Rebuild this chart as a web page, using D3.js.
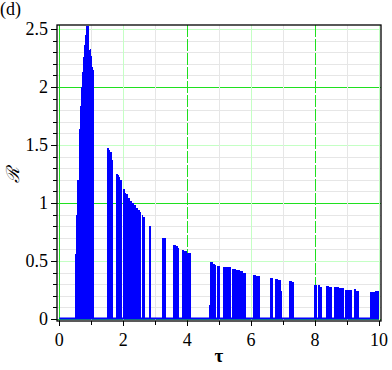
<!DOCTYPE html>
<html lang="en">
<head>
  <meta charset="UTF-8" />
  <title>R vs tau</title>
  <script src="https://cdn.jsdelivr.net/npm/d3@7/dist/d3.min.js"></script>
  <style>
    body { margin: 0; background: #fff; }
    svg text { font-family: "Liberation Serif", "DejaVu Serif", serif; }
  </style>
</head>
<body>
  <div id="chart"></div>
  <script>
    // strips of the dense spike plot: tau from, tau to, height R
    const tauFrom = [
      0.500, 0.522, 0.563, 0.606, 0.647, 0.678, 0.709, 0.741, 0.772, 0.803, 0.834, 0.919, 0.959, 1.000, 1.031, 1.053,
      1.481, 1.563, 1.600, 1.647,
      1.763, 1.834, 1.866, 1.897,
      1.981, 2.044, 2.084, 2.147, 2.209, 2.272, 2.334, 2.397, 2.459, 2.522, 2.594, 2.625,
      2.803, 3.200,
      3.544, 3.647, 3.700,
      3.834, 3.897, 3.959, 3.991,
      4.688, 4.709, 4.803, 4.866, 4.928,
      5.106, 5.272, 5.397, 5.522, 5.647, 5.741,
      6.044, 6.147, 6.584, 6.741, 6.834, 6.928,
      7.178, 7.272,
      7.969, 8.084, 8.147, 8.334, 8.428, 8.594, 8.740, 8.950, 9.209, 9.272,
      9.709, 9.866
    ];
    const tauTo = [
      0.522, 0.563, 0.606, 0.647, 0.678, 0.709, 0.741, 0.772, 0.803, 0.834, 0.919, 0.959, 1.000, 1.031, 1.053, 1.084,
      1.563, 1.600, 1.647, 1.688,
      1.834, 1.866, 1.897, 1.969,
      2.044, 2.084, 2.147, 2.209, 2.272, 2.334, 2.397, 2.459, 2.522, 2.563, 2.625, 2.669,
      2.866, 3.325,
      3.647, 3.700, 3.750,
      3.897, 3.959, 3.991, 4.106,
      4.709, 4.803, 4.866, 4.909, 5.022,
      5.272, 5.366, 5.522, 5.647, 5.741, 5.850,
      6.147, 6.272, 6.669, 6.834, 6.928, 6.980,
      7.272, 7.356,
      8.069, 8.147, 8.231, 8.428, 8.544, 8.740, 8.906, 9.169, 9.272, 9.366,
      9.866, 10.000
    ];
    const rHeight = [
      0.56, 0.90, 1.20, 1.64, 1.84, 2.00, 2.13, 2.26, 2.36, 2.45, 2.53, 2.32, 2.33, 2.27, 2.17, 2.15,
      1.47, 1.455, 1.44, 1.37,
      1.25, 1.24, 1.22, 1.20,
      1.12, 1.09, 1.075, 1.04, 1.02, 1.00, 0.98, 0.96, 0.94, 0.92, 0.90, 0.88,
      0.80, 0.70,
      0.64, 0.63, 0.615,
      0.595, 0.59, 0.585, 0.57,
      0.12, 0.49, 0.474, 0.465, 0.457,
      0.45, 0.445, 0.43, 0.42, 0.41, 0.40,
      0.38, 0.37, 0.35, 0.345, 0.336, 0.24,
      0.33, 0.32,
      0.29, 0.29, 0.28, 0.285, 0.278, 0.275, 0.27, 0.25, 0.255, 0.245,
      0.233, 0.24
    ];

    const xTickLabels = [0, 2, 4, 6, 8, 10];
    const yTickLabels = [0, 0.5, 1, 1.5, 2, 2.5];
    const xMinorTicks = [0, 1, 2, 3, 4, 5, 6, 7, 8, 9, 10];
    const yMinorTicks = d3.range(0, 25.5, 1).map(d => d / 10);

    const width = 392, height = 370;
    const svg = d3.select("#chart").append("svg")
      .attr("width", width)
      .attr("height", height);

    const frame = { left: 57, right: 381, top: 25, bottom: 321 };
    const x = d3.scaleLinear().domain([0, 10]).range([59.3, 379]);
    const y = d3.scaleLinear().domain([0, 2.5]).range([319, 29]);

    const gray = "#e6e6e6", pale = "#c4ffc4", green = "#1fe01f";

    // grid
    const grid = svg.append("g");
    yMinorTicks.forEach(v => {
      const k = Math.round(v * 10);
      let col = gray;
      if (k % 10 === 0) col = green;
      else if (k % 5 === 0) col = pale;
      grid.append("line")
        .attr("x1", frame.left).attr("x2", frame.right)
        .attr("y1", Math.round(y(v)) + 0.5).attr("y2", Math.round(y(v)) + 0.5)
        .attr("stroke", col).attr("stroke-width", 1);
    });
    xMinorTicks.forEach(v => {
      let col = gray;
      if (v % 4 === 0) col = green;
      else if (v % 2 === 0) col = pale;
      const px = Math.round(x(v)) + 0.5;
      const ln = grid.append("line")
        .attr("x1", px).attr("x2", px)
        .attr("y1", frame.top).attr("y2", frame.bottom)
        .attr("stroke", col).attr("stroke-width", 1);
      if (v === 4 || v === 8) ln.attr("stroke-dasharray", "12,2");
    });

    // data strips, merged into one path so neighbours leave no seams
    const strips = tauFrom.map((t, i) => ({ t0: t, t1: tauTo[i], r: rHeight[i] }));
    const p = d3.path();
    strips.forEach(d => {
      p.rect(x(d.t0), y(d.r), x(d.t1) - x(d.t0), y(0) - y(d.r));
    });
    svg.append("path")
      .attr("d", p.toString())
      .attr("fill", "#0000ff")
      .attr("shape-rendering", "crispEdges");

    // baseline of the spike plot
    svg.append("line")
      .attr("x1", x(0)).attr("x2", x(10))
      .attr("y1", y(0) - 0.5).attr("y2", y(0) - 0.5)
      .attr("stroke", "#0000ff").attr("stroke-width", 2.2);

    // frame
    svg.append("rect")
      .attr("x", frame.left).attr("y", frame.top)
      .attr("width", frame.right - frame.left)
      .attr("height", frame.bottom - frame.top)
      .attr("fill", "none").attr("stroke", "#000").attr("stroke-width", 1.3);

    // y ticks
    const yAxis = svg.append("g").attr("transform", `translate(${frame.left},0)`);
    yAxis.selectAll("line.minor")
      .data(yMinorTicks)
      .join("line")
      .attr("x1", d => (Math.round(d * 10) % 5 === 0) ? -6 : -4).attr("x2", 0)
      .attr("y1", d => Math.round(y(d)) + 0.5).attr("y2", d => Math.round(y(d)) + 0.5)
      .attr("stroke", "#000");
    yAxis.selectAll("text")
      .data(yTickLabels)
      .join("text")
      .attr("x", -9)
      .attr("y", d => y(d) + 6)
      .attr("text-anchor", "end")
      .attr("font-size", 18)
      .text(d3.format("~g"));

    // x ticks
    const xAxis = svg.append("g").attr("transform", `translate(0,${frame.bottom})`);
    xAxis.selectAll("line")
      .data(xMinorTicks)
      .join("line")
      .attr("x1", d => Math.round(x(d)) + 0.5).attr("x2", d => Math.round(x(d)) + 0.5)
      .attr("y1", 0).attr("y2", d => d % 2 === 0 ? 5 : 4)
      .attr("stroke", "#000");
    xAxis.selectAll("text")
      .data(xTickLabels)
      .join("text")
      .attr("x", d => x(d))
      .attr("y", 25)
      .attr("text-anchor", "middle")
      .attr("font-size", 18)
      .text(d => d);

    // labels
    svg.append("text")
      .attr("x", 0).attr("y", 15)
      .attr("font-size", 18)
      .text("(d)");

    svg.append("text")
      .attr("x", 219).attr("y", 362)
      .attr("text-anchor", "middle")
      .attr("font-size", 19)
      .attr("font-weight", "bold")
      .text("τ");

    svg.append("text")
      .attr("transform", "translate(19,175) rotate(-90)")
      .attr("text-anchor", "middle")
      .attr("font-size", 18)
      .style("font-family", "'DejaVu Serif', serif")
      .style("font-style", "italic")
      .text("ℛ");
  </script>
</body>
</html>
